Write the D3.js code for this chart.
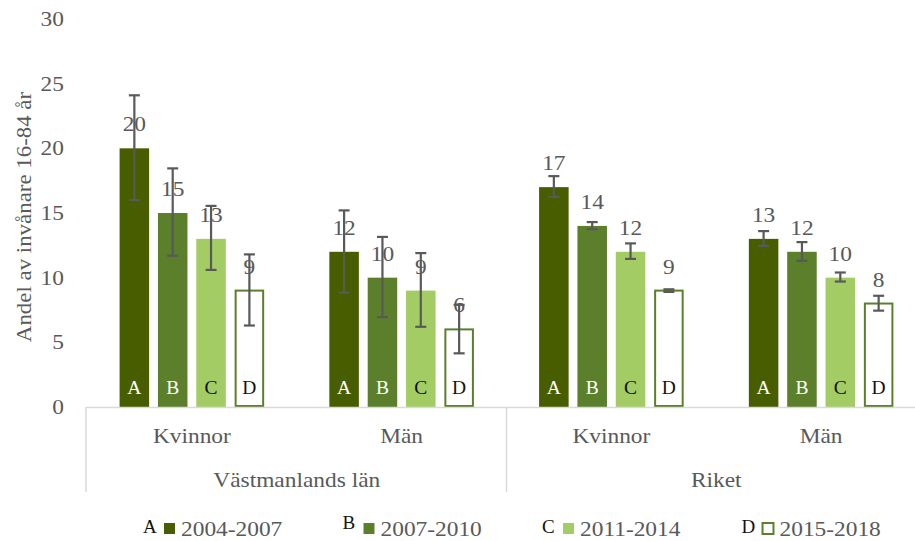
<!DOCTYPE html>
<html lang="sv">
<head>
<meta charset="utf-8">
<title>Andel av invånare 16-84 år</title>
<script src="https://cdn.jsdelivr.net/npm/d3@7/dist/d3.min.js"></script>
<style>
  body { margin: 0; background: #fff; }
</style>
</head>
<body>
<script>
// regions and sexes along the category axis
var regions = ["Västmanlands län", "Riket"];
var sexes = ["Kvinnor", "Män"];
var categories = ["Västmanlands län|Kvinnor", "Västmanlands län|Män", "Riket|Kvinnor", "Riket|Män"];

// periods (series)
var periods = ["2004-2007", "2007-2010", "2011-2014", "2015-2018"];
var letters = ["A", "B", "C", "D"];

// values per period, one per category
var val2004 = [20, 12, 17, 13];
var val2007 = [15, 10, 14, 12];
var val2011 = [13, 9, 12, 10];
var val2015 = [9, 6, 9, 8];

// confidence intervals (low / high)
var low2004 = [16.0, 8.85, 16.25, 12.45];
var high2004 = [24.1, 15.2, 17.85, 13.6];
var low2007 = [11.7, 6.95, 13.75, 11.3];
var high2007 = [18.45, 13.15, 14.3, 12.75];
var low2011 = [10.6, 6.2, 11.45, 9.7];
var high2011 = [15.55, 11.9, 12.65, 10.4];
var low2015 = [6.3, 4.15, 8.9, 7.45];
var high2015 = [11.8, 7.9, 9.1, 8.6];

var yTicks = [0, 5, 10, 15, 20, 25, 30];

var values = [val2004, val2007, val2011, val2015];
var lows = [low2004, low2007, low2011, low2015];
var highs = [high2004, high2007, high2011, high2015];

var fills = ["#475d00", "#5b7f2b", "#a4cc64", "#ffffff"];
var letterColors = ["#ffffff", "#ffffff", "#111111", "#111111"];
var grey = "#595959";
var serif = "'Liberation Serif', 'Times New Roman', serif";
var sx = 1.17; // the text in the original is a little wide

var w = 915, h = 541;
var x0 = 87, x1 = 926, y0 = 407, yTop = 19;

var svg = d3.select("body").append("svg")
  .attr("width", w)
  .attr("height", h)
  .style("font-family", serif);

var xScale = d3.scaleBand()
  .domain(categories)
  .range([x0, x1]);

var xInner = d3.scaleBand()
  .domain(periods)
  .range([0, xScale.bandwidth()])
  .paddingInner(0.23)
  .paddingOuter(0.85);

var yScale = d3.scaleLinear()
  .domain([0, 30])
  .range([y0, yTop]);

function at(x, y, s) {
  return "translate(" + x + "," + y + ") scale(" + s + ",1)";
}

// y tick labels
svg.append("g")
  .selectAll("text")
  .data(yTicks)
  .enter()
  .append("text")
  .attr("transform", function(d) { return at(64, yScale(d), sx); })
  .attr("dy", "0.35em")
  .attr("text-anchor", "end")
  .attr("font-size", "20px")
  .attr("fill", grey)
  .text(function(d) { return d; });

// y title
svg.append("text")
  .attr("transform", "translate(31,217) rotate(-90) scale(1.09,1)")
  .attr("text-anchor", "middle")
  .attr("font-size", "21px")
  .attr("fill", grey)
  .text("Andel av invånare 16-84 år");

// flatten to bar records
var bars = [];
periods.forEach(function(p, si) {
  categories.forEach(function(c, ci) {
    bars.push({ period: p, si: si, cat: c, v: values[si][ci], lo: lows[si][ci], hi: highs[si][ci] });
  });
});

function cx(d) { return xScale(d.cat) + xInner(d.period) + xInner.bandwidth() / 2; }

var barG = svg.append("g");

barG.selectAll("rect")
  .data(bars)
  .enter()
  .append("rect")
  .attr("x", function(d) { return xScale(d.cat) + xInner(d.period) + (d.si === 3 ? 1 : 0); })
  .attr("y", function(d) { return yScale(d.v); })
  .attr("width", function(d) { return xInner.bandwidth() - (d.si === 3 ? 2 : 0); })
  .attr("height", function(d) { return y0 - yScale(d.v) - (d.si === 3 ? 1 : 0); })
  .attr("fill", function(d) { return fills[d.si]; })
  .attr("stroke", function(d) { return d.si === 3 ? "#5b7f2b" : "none"; })
  .attr("stroke-width", 2);

// letters inside bars
barG.selectAll("text.letter")
  .data(bars)
  .enter()
  .append("text")
  .attr("class", "letter")
  .attr("x", cx)
  .attr("y", 394)
  .attr("text-anchor", "middle")
  .attr("font-size", "19.5px")
  .attr("fill", function(d) { return letterColors[d.si]; })
  .text(function(d) { return letters[d.si]; });

// value labels
barG.selectAll("text.val")
  .data(bars)
  .enter()
  .append("text")
  .attr("class", "val")
  .attr("transform", function(d) { return at(cx(d), yScale(d.v) - 17, sx); })
  .attr("text-anchor", "middle")
  .attr("font-size", "20px")
  .attr("fill", grey)
  .text(function(d) { return d.v; });

// error bars
var err = svg.append("g")
  .attr("stroke", grey)
  .attr("stroke-width", 2.2)
  .selectAll("g")
  .data(bars)
  .enter()
  .append("g")
  .attr("transform", function(d) { return "translate(" + cx(d) + ",0)"; });
err.append("line")
  .attr("y1", function(d) { return yScale(d.lo); })
  .attr("y2", function(d) { return yScale(d.hi); });
err.append("line")
  .attr("x1", -5.5).attr("x2", 5.5)
  .attr("y1", function(d) { return yScale(d.lo); })
  .attr("y2", function(d) { return yScale(d.lo); });
err.append("line")
  .attr("x1", -5.5).attr("x2", 5.5)
  .attr("y1", function(d) { return yScale(d.hi); })
  .attr("y2", function(d) { return yScale(d.hi); });

// category axis
var axisCol = "#d9d9d9";
svg.append("line")
  .attr("x1", x0 - 1).attr("x2", x1)
  .attr("y1", y0 + 0.5).attr("y2", y0 + 0.5)
  .attr("stroke", axisCol).attr("stroke-width", 1.5);

var regionEdges = [x0 - 1, xScale(categories[2]), x1];
svg.selectAll("line.sep")
  .data(regionEdges)
  .enter()
  .append("line")
  .attr("class", "sep")
  .attr("x1", function(d) { return d; }).attr("x2", function(d) { return d; })
  .attr("y1", y0).attr("y2", 492)
  .attr("stroke", axisCol).attr("stroke-width", 1.5);

svg.selectAll("text.sex")
  .data(categories)
  .enter()
  .append("text")
  .attr("class", "sex")
  .attr("transform", function(d) { return at(xScale(d) + xScale.bandwidth() / 2, 443, sx); })
  .attr("text-anchor", "middle")
  .attr("font-size", "20px")
  .attr("fill", grey)
  .text(function(d) { return d.split("|")[1]; });

svg.selectAll("text.region")
  .data(regions)
  .enter()
  .append("text")
  .attr("class", "region")
  .attr("transform", function(d, i) { return at(xScale(categories[i * 2]) + xScale.bandwidth(), 487, sx); })
  .attr("text-anchor", "middle")
  .attr("font-size", "20px")
  .attr("fill", grey)
  .text(function(d) { return d; });

// legend
var legend = svg.selectAll("g.legend")
  .data(periods)
  .enter()
  .append("g")
  .attr("class", "legend")
  .attr("transform", function(d, i) { return "translate(" + (143 + i * 199.5) + ",0)"; });

legend.append("text")
  .attr("x", 0)
  .attr("y", function(d, i) { return i === 1 ? 529 : 533; })
  .attr("font-size", "19px")
  .attr("fill", "#111")
  .text(function(d, i) { return letters[i]; });

legend.append("rect")
  .attr("x", 21)
  .attr("y", 523)
  .attr("width", 11)
  .attr("height", 11)
  .attr("fill", function(d, i) { return fills[i]; })
  .attr("stroke", function(d, i) { return i === 3 ? "#5b7f2b" : "none"; })
  .attr("stroke-width", 2);

legend.append("text")
  .attr("transform", at(38, 536, sx))
  .attr("font-size", "20px")
  .attr("fill", grey)
  .text(function(d) { return d; });
</script>
</body>
</html>
